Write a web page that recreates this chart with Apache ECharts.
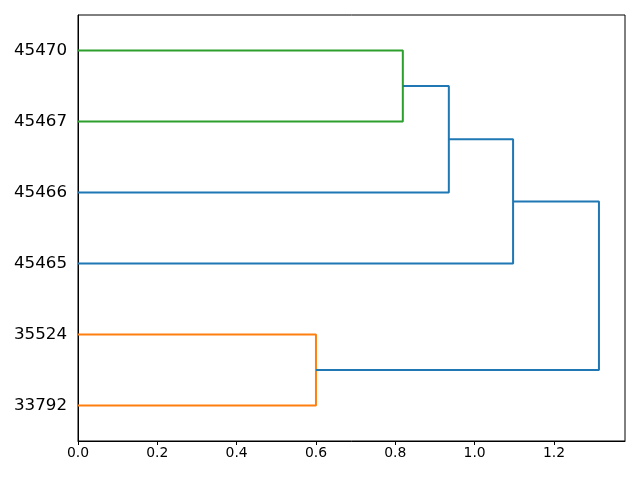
<!DOCTYPE html>
<html><head><meta charset="utf-8">
<script src="https://cdn.jsdelivr.net/npm/echarts@6/dist/echarts.min.js"></script>
<style>html,body{margin:0;padding:0;background:#fff}#c{width:640px;height:480px}</style>
</head><body><div id="c"></div>
<script>
var leaves = ['33792','35524','45465','45466','45467','45470'];
// link y positions (leaf units: leaves at 5,15,...)
var icoord = [
  [45, 45, 55, 55],
  [35, 35, 50, 50],
  [25, 25, 42.5, 42.5],
  [5, 5, 15, 15],
  [10, 10, 33.75, 33.75]
];
// link heights (distance)
var dcoord = [
  [0, 0.819, 0.819, 0],
  [0, 0.935, 0.935, 0.819],
  [0, 1.097, 1.097, 0.935],
  [0, 0.600, 0.600, 0],
  [0.600, 1.3135, 1.3135, 1.097]
];
var linkColors = ['#2ca02c','#1f77b4','#1f77b4','#ff7f0e','#1f77b4'];
var xTicks = [0, 0.2, 0.4, 0.6, 0.8, 1.0, 1.2];

var maxD = Math.max.apply(null, dcoord.map(function(d){return Math.max.apply(null,d);}));
var series = icoord.map(function(ic, i){
  return {
    type:'line', xAxisIndex:0, yAxisIndex:1, symbol:'none', silent:true,
    lineStyle:{color:linkColors[i], width:2},
    data: ic.map(function(y,k){return [dcoord[i][k], y];}),
    animation:false
  };
});
var chart = echarts.init(document.getElementById('c'));
chart.setOption({
  animation:false,
  grid:{left:78,right:15,top:15,bottom:39,show:true,borderColor:'#000',borderWidth:1,backgroundColor:'transparent'},
  xAxis:[{type:'value',min:0,max:maxD*1.05,interval:0.2,
    axisLine:{show:true,lineStyle:{color:'#000'}},
    axisTick:{show:true,length:4,lineStyle:{color:'#000'}},
    splitLine:{show:false},
    axisLabel:{showMaxLabel:false,color:'#000',fontSize:13.9,fontFamily:'DejaVu Sans',margin:5,
      formatter:function(v){return v.toFixed(1);}}
  }],
  yAxis:[
    {type:'category',data:leaves,boundaryGap:true,position:'left',
     axisLine:{show:true,lineStyle:{color:'#000'}},axisTick:{show:false},
     axisLabel:{color:'#000',fontSize:16.7,fontFamily:'DejaVu Sans',margin:11},splitLine:{show:false}},
    {type:'value',min:0,max:leaves.length*10,show:false}
  ],
  series:series
});
</script></body></html>
